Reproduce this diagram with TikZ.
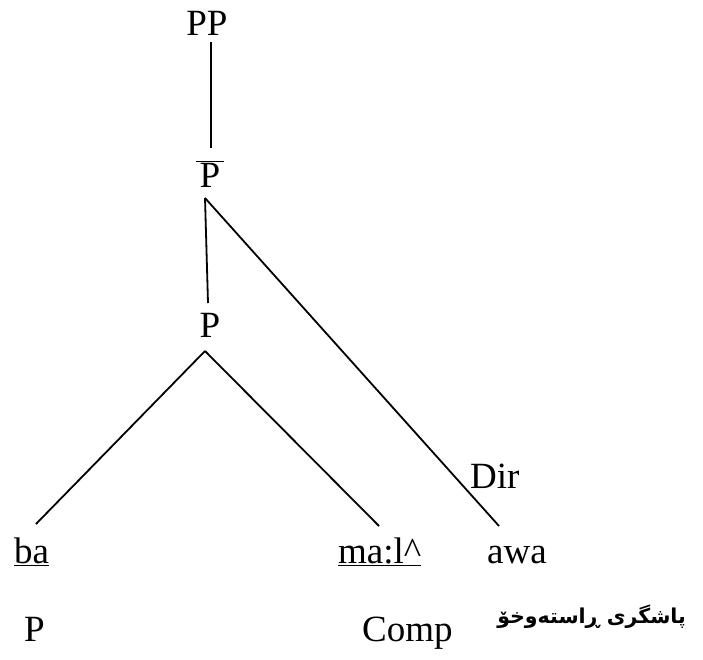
\documentclass[tikz,border=0pt]{standalone}
\usepackage{fontspec}
\setmainfont{Liberation Serif}
\newfontfamily\kurdfont[Script=Arabic]{DejaVu Sans}
\TeXXeTstate=1
\usetikzlibrary{calc}
\begin{document}
\begin{tikzpicture}[x=1pt,y=-1pt,
  lbl/.style={inner sep=0pt, font=\fontsize{37}{44}\selectfont},
  kurd/.style={inner sep=0pt, font=\fontsize{20.5}{25}\selectfont\kurdfont\bfseries},
  edge/.style={line width=1.8pt}]
\useasboundingbox (0,0) rectangle (703,659);
\node[lbl,anchor=base] (PP) at (207,35) {PP};
\node[lbl,anchor=base] (Pbar) at (210,187) {$\overline{\mbox{\kern4pt P\kern4pt}}$};
\node[lbl,anchor=base] (P) at (210,337) {P};
\node[lbl,anchor=base west] (ba) at (14,563) {\underline{ba}};
\node[lbl,anchor=base west] (mal) at (338,563) {\underline{ma:l\textasciicircum}};
\node[lbl,anchor=base] (awa) at (517,563) {awa};
\node[lbl,anchor=base west] (dir) at (470,488) {Dir};
\node[lbl,anchor=base west] (Pcat) at (24,641) {P};
\node[lbl,anchor=base west] (comp) at (362,641) {Comp};
\node[kurd,anchor=base east] (kurd) at (686,623) {\beginR پاشگری ڕاستەوخۆ\endR};
\draw[edge] ($(PP.base)+(4,7)$) -- ($(Pbar.base)+(1,-39)$);
\draw[edge] ($(Pbar.base)+(-5,11)$) -- ($(P.base)+(-2,-34)$);
\draw[edge] ($(Pbar.base)+(-5,11)$) -- ($(awa.base)+(-18,-37)$);
\draw[edge] ($(P.base)+(-5,14)$) -- ($(ba.base west)+(22,-39)$);
\draw[edge] ($(P.base)+(-5,14)$) -- ($(mal.base west)+(41,-37)$);
\end{tikzpicture}
\end{document}
